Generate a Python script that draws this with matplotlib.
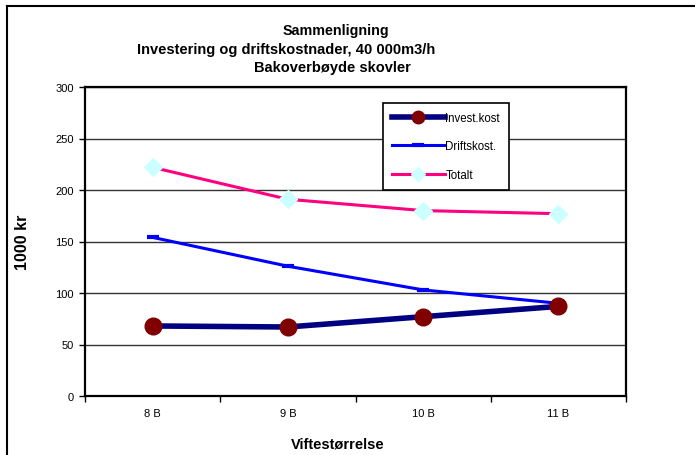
import matplotlib
matplotlib.use("Agg")
from matplotlib import pyplot as plt
from matplotlib.lines import Line2D
import numpy as np

# data
categories = ["8 B", "9 B", "10 B", "11 B"]
invest = [68, 67, 77, 87]
drift = [154, 126, 103, 90]
totalt = [222, 191, 180, 177]
yticks = [0, 50, 100, 150, 200, 250, 300]

W, H = 695, 456
plt.rcParams['font.family'] = ['Liberation Sans', 'DejaVu Sans']

fig = plt.figure(figsize=(W / 100, H / 100), dpi=100)
# axes in pixel box: left 85, right 626, top 88, bottom 397
ax = fig.add_axes([85 / W, 1 - 397 / H, (626 - 85) / W, (397 - 88) / H])

x = np.arange(len(categories))
ax.plot(x, invest, color="#000080", lw=4, marker="o", ms=12,
        mfc="#800000", mec="#800000", label="Invest.kost", zorder=4)
ax.plot(x, drift, color="#0000ff", lw=2.2, marker="_", ms=9, mew=3,
        mec="#0000ff", label="Driftskost.", zorder=3)
ax.plot(x, totalt, color="#ff0080", lw=2.2, marker="D", ms=9,
        mfc="#ccffff", mec="#ccffff", label="Totalt", zorder=3)

ax.set_xlim(-0.5, len(categories) - 0.5)
ax.set_ylim(0, 300)
ax.set_yticks(yticks)
ax.set_yticklabels([str(v) for v in yticks], fontsize=8)
ax.yaxis.grid(True, color="#333333", lw=1)
ax.set_axisbelow(True)

# category labels in the middle, tick marks at the boundaries
ax.set_xticks(x)
ax.set_xticklabels(categories, fontsize=8)
ax.tick_params(axis="x", which="major", length=0, pad=9)
ax.set_xticks(np.arange(len(categories) + 1) - 0.5, minor=True)
ax.tick_params(axis="x", which="minor", length=4, width=1, direction="out")
ax.tick_params(axis="y", length=4, width=1, direction="out", pad=4)

for s in ax.spines.values():
    s.set_linewidth(1.6)
    s.set_color("black")

ax.set_xlabel("Viftestørrelse", fontsize=10.5, fontweight="bold")
ax.xaxis.set_label_coords((338 - 85) / (626 - 85), -(438 - 397) / (397 - 88))
ax.set_ylabel("1000 kr", fontsize=11.5, fontweight="bold")
ax.yaxis.set_label_coords(-(85 - 30) / (626 - 85), 0.5)

# title lines
fig.text(336 / W, 1 - 31 / H, "Sammenligning", ha="center", va="center",
         fontsize=10.3, fontweight="bold")
fig.text(137 / W, 1 - 50 / H, "Investering og driftskostnader, 40 000m3/h",
         ha="left", va="center", fontsize=10.5, fontweight="bold")
fig.text(254 / W, 1 - 68 / H, "Bakoverbøyde skovler", ha="left", va="center",
         fontsize=10.5, fontweight="bold")

leg = ax.legend(loc="upper left",
                bbox_to_anchor=((383 - 85) / (626 - 85), 1 - (104 - 88) / (397 - 88)),
                fontsize=8.3, frameon=True, fancybox=False, framealpha=1,
                edgecolor="black", handlelength=4.6, handletextpad=0.05,
                labelspacing=1.45, borderpad=0.75, borderaxespad=0)
leg.get_frame().set_linewidth(1.2)
for h in leg.legend_handles:
    if h.get_marker() == "o":
        h.set_markersize(9)
    elif h.get_marker() == "D":
        h.set_markersize(7)

# outer chart frame (left and top edges visible)
fig.add_artist(Line2D([7 / W, 7 / W], [0, 1 - 7 / H], color="black", lw=1.5))
fig.add_artist(Line2D([7 / W, 1], [1 - 7 / H, 1 - 7 / H], color="black", lw=1.5))

fig.savefig("out.png", dpi=100)
